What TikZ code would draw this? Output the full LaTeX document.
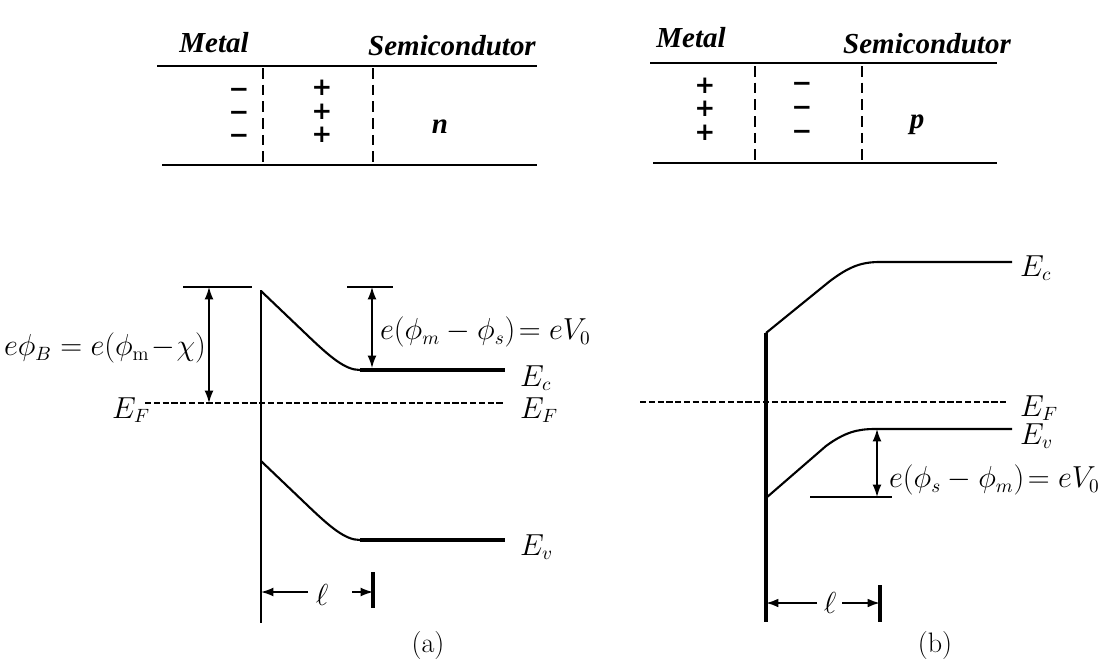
\documentclass[tikz,border=0pt]{standalone}
\usepackage{fontspec}
\usepackage{xcolor}
\usepackage{tikz}
\usetikzlibrary{arrows.meta,positioning,calc}
\newfontfamily\headfont{Liberation Serif}
\newfontfamily\chgfont{DejaVu Sans}

\begin{document}
\begin{tikzpicture}[x=0.02cm,y=-0.02cm,>={Latex[length=7pt,width=5pt]},
  lbl/.style={font=\fontsize{16}{19}\selectfont},
  head/.style={font=\fontsize{16.5}{19}\selectfont\headfont\bfseries\itshape},
  chg/.style={font=\fontsize{14}{16}\selectfont\chgfont\bfseries,
    inner sep=0pt, text height=0.66em, text depth=0pt},
  wall/.style={line width=1.6pt},
  sep/.style={line width=1.6pt,dash pattern=on 6pt off 3.5pt},
  fermi/.style={line width=1.2pt,dash pattern=on 3.5pt off 1.5pt},
  band/.style={line width=1.2pt},
  flat/.style={line width=2.3pt},
  thin/.style={line width=0.8pt}]
\useasboundingbox (0,0) rectangle (1102,663);

% Junction (a): metal / n-type
\node[head, anchor=base] (metalA) at (214,52) {Metal};
\node[head, anchor=base] (semiA) at (452,55) {Semicondutor};
\draw[wall] (157,66) -- (537,66);
\draw[wall] (162,165) -- (537,165);
\draw[sep] (263,68) -- (263,165);
\draw[sep] (373,68) -- (373,165);
\foreach \y [count=\i] in {92,115,138} \node[chg] (minA\i) at (239,\y) {−};
\foreach \y [count=\i] in {90,114,137} \node[chg] (plusA\i) at (322,\y) {+};
\node[head] (typeN) at (440,127) {n};

% Junction (b): metal / p-type
\node[head, anchor=base] (metalB) at (691,47) {Metal};
\node[head, anchor=base] (semiB) at (927,53) {Semicondutor};
\draw[wall] (650,63) -- (997,63);
\draw[wall] (653,163) -- (997,163);
\draw[sep] (755,66) -- (755,163);
\draw[sep] (862,66) -- (862,163);
\foreach \y [count=\i] in {88,111,135} \node[chg] (plusB\i) at (705,\y) {+};
\foreach \y [count=\i] in {86,110,134} \node[chg] (minB\i) at (802,\y) {−};
\node[head] (typeP) at (917,125) {p};

% Band diagram (a)
\draw[thin] (261,290) -- (261,623);
\draw[band] (261,291) -- (305,333) .. controls (330,357) and (345,370) .. (360,370);
\draw[flat] (360,370) -- (505,370);
\draw[band] (261,461) -- (305,503) .. controls (330,527) and (345,540) .. (360,540);
\draw[flat] (360,540) -- (505,540);
\draw[fermi] (145,403) -- (503,403);
\coordinate (barA) at (209,287);
\coordinate (efA) at (209,403);
\coordinate (topA) at (372,287);
\coordinate (ecA) at (372,368);
\draw[thin] (183,287) -- (252,287);
\draw[thin] (347,287) -- (393,287);
\draw[thin,<->] (barA) -- (efA);
\draw[thin,<->] (topA) -- (ecA);
\node[lbl] (phiB) at (105,348) {$e\phi_B = e(\phi_{\mathrm{m}}\!-\!\chi)$};
\node[lbl, anchor=west] (vA) at (374,332) {$e(\phi_m - \phi_s)\!=eV_0$};
\node[lbl] (efL) at (131,410) {$E_F$};
\node[lbl, anchor=west] (ecR) at (514,378) {$E_c$};
\node[lbl, anchor=west] (efR) at (514,410) {$E_F$};
\node[lbl, anchor=west] (evR) at (514,547) {$E_v$};
% depletion width (a)
\coordinate (lA0) at (261,592);
\coordinate (lA1) at (373,592);
\draw[thin,->] (308,592) -- (lA0);
\draw[thin,->] (352,592) -- (lA1);
\draw[flat] (373,572) -- (373,608);
\node[lbl] (ellA) at (322,595) {$\ell$};
\node[lbl] (capA) at (428,645) {(a)};

% Band diagram (b)
\draw[flat] (766,333) -- (766,622);
\draw[band] (766,333) -- (830,281) .. controls (850,266) and (862,262) .. (880,262) -- (1012,262);
\draw[band] (766,498) -- (826,446) .. controls (845,432) and (858,429) .. (875,429) -- (1012,429);
\draw[fermi] (640,402) -- (1007,402);
\coordinate (evB) at (877,429);
\coordinate (lowB) at (877,497);
\draw[band] (810,497) -- (892,497);
\draw[thin,<->] (evB) -- (lowB);
\node[lbl, anchor=west] (ecB) at (1014,268) {$E_c$};
\node[lbl, anchor=west] (efB) at (1014,408) {$E_F$};
\node[lbl, anchor=west] (evBl) at (1014,436) {$E_v$};
\node[lbl, anchor=west] (vB) at (883,480) {$e(\phi_s - \phi_m)\!=eV_0$};
% depletion width (b)
\coordinate (lB0) at (766,603);
\coordinate (lB1) at (880,603);
\draw[band,->] (817,603) -- (lB0);
\draw[band,->] (842,603) -- (lB1);
\draw[flat] (880,585) -- (880,622);
\node[lbl] (ellB) at (830,603) {$\ell$};
\node[lbl] (capB) at (935,645) {(b)};

\end{tikzpicture}
\end{document}
